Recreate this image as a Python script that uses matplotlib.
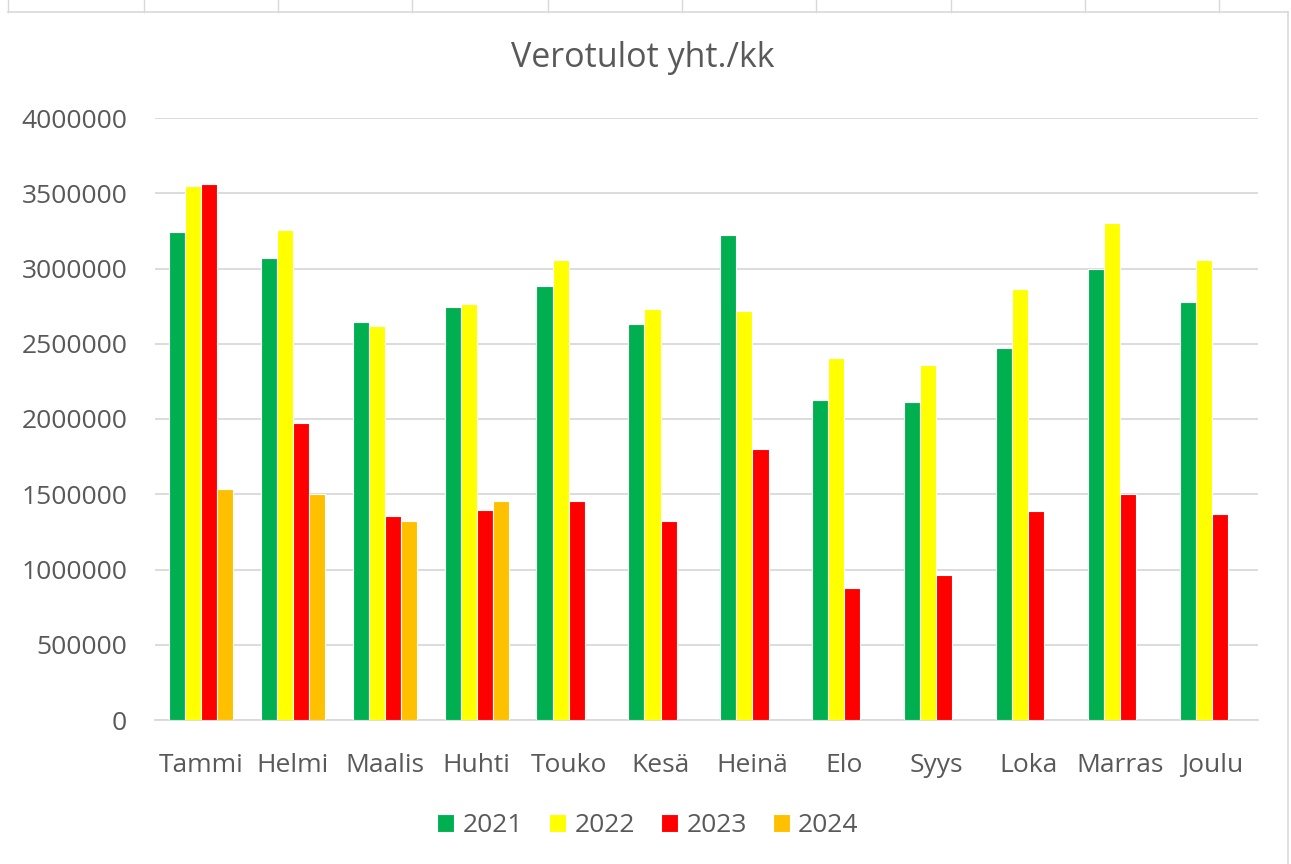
import numpy as np
import matplotlib
matplotlib.use("Agg")
import matplotlib.pyplot as plt
from matplotlib.lines import Line2D

months = ["Tammi", "Helmi", "Maalis", "Huhti", "Touko", "Kesä", "Heinä",
          "Elo", "Syys", "Loka", "Marras", "Joulu"]
years = ["2021", "2022", "2023", "2024"]
v2021 = [3243000, 3070000, 2645000, 2744000, 2884000, 2631000, 3223000,
         2126000, 2113000, 2472000, 2997000, 2777000]
v2022 = [3548000, 3256000, 2618000, 2764000, 3056000, 2731000, 2718000,
         2405000, 2359000, 2864000, 3302000, 3056000]
v2023 = [3561000, 1973000, 1355000, 1395000, 1455000, 1322000, 1801000,
         877000, 963000, 1389000, 1502000, 1369000]
v2024 = [1535000, 1502000, 1322000, 1455000, np.nan, np.nan, np.nan,
         np.nan, np.nan, np.nan, np.nan, np.nan]
series = [v2021, v2022, v2023, v2024]
colors = ["#00B050", "#FFFF00", "#FF0000", "#FFC000"]
yticks = [0, 500000, 1000000, 1500000, 2000000, 2500000, 3000000, 3500000, 4000000]

W, H = 1291, 864
fig = plt.figure(figsize=(W / 100, H / 100), dpi=100)
fig.patch.set_facecolor("white")

# spreadsheet cell lines / chart border
grey = "#d9d9d9"
for xp in [8, 144, 278, 412, 548, 682, 816, 951, 1085, 1219]:
    fig.add_artist(Line2D([xp / W, xp / W], [1, 1 - 12 / H], color=grey, lw=1))
fig.add_artist(Line2D([8 / W, 1288 / W], [1 - 12 / H, 1 - 12 / H], color=grey, lw=1.2))
fig.add_artist(Line2D([1288 / W, 1288 / W], [1 - 12 / H, 0], color=grey, lw=1.2))

ax = fig.add_axes([155 / W, 1 - 720 / H, (1258 - 155) / W, (720 - 118) / H])
x = np.arange(len(months))
bw = 0.175
for i, (vals, c, yl) in enumerate(zip(series, colors, years)):
    ax.bar(x + (i - 1.5) * bw, vals, width=bw, color=c, edgecolor="white",
           linewidth=0.8, label=yl, zorder=3)

ax.set_xlim(-0.5, len(months) - 0.5)
ax.set_ylim(0, 4000000)
ax.set_yticks(yticks)
ax.set_yticklabels([str(t) for t in yticks])
ax.set_xticks(x)
ax.set_xticklabels(months)
ax.grid(axis="y", color=grey, lw=1.3, zorder=0)
for s in ["top", "right", "left"]:
    ax.spines[s].set_visible(False)
ax.spines["bottom"].set_color(grey)
ax.spines["bottom"].set_linewidth(1.3)
ax.tick_params(axis="both", length=0, colors="#595959", labelsize=19)
ax.tick_params(axis="y", pad=20)
ax.tick_params(axis="x", pad=24)
for lab in ax.get_xticklabels() + ax.get_yticklabels():
    lab.set_fontfamily("Open Sans")

fig.text(643 / W, 1 - 58 / H, "Verotulot yht./kk", ha="center", va="center",
         fontsize=24.5, color="#595959", family="Open Sans")

leg = fig.legend(loc="center", bbox_to_anchor=(648 / W, 1 - 826 / H), ncol=4,
                 frameon=False, prop={"family": "Open Sans", "size": 19},
                 handlelength=0.65, handleheight=0.65, handletextpad=0.3,
                 columnspacing=1.0)
for t in leg.get_texts():
    t.set_color("#595959")

fig.savefig("out.png", dpi=100, facecolor="white")
